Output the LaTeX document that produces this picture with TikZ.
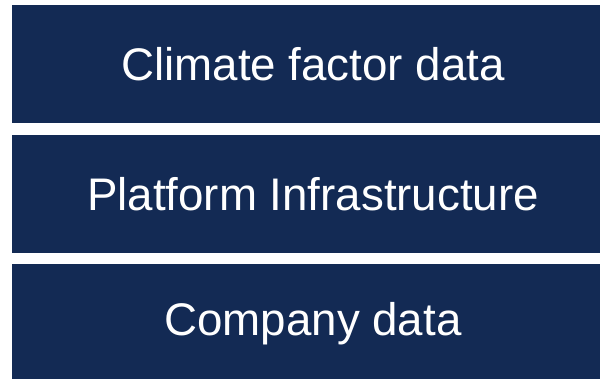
\documentclass[tikz,border=0pt]{standalone}
\usepackage{fontspec}
\setmainfont{Liberation Sans}
\definecolor{layernavy}{RGB}{19,42,84}
\tikzset{
	layer/.style={rectangle, fill=layernavy, text=white, minimum width=15.05cm, minimum height=2.96cm, inner sep=0mm, font=\fontsize{32.5}{39}\selectfont}
}
\begin{document}
\begin{tikzpicture}
		\useasboundingbox (0, 0) rectangle (15, 9.475);
		\fill[white] (0, 0) rectangle (15, 9.475);
		\node[layer] (climate) at (7.825, 7.87) {Climate factor data};
		\node[layer] (platform) at (7.825, 4.63) {Platform Infrastructure};
		\node[layer] (company) at (7.825, 1.39) {Company data};
	\end{tikzpicture}
\end{document}
